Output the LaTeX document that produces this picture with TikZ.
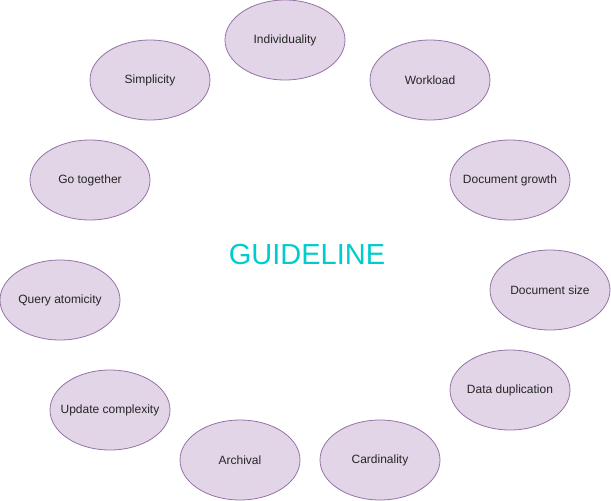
\documentclass[tikz,border=0pt]{standalone}
\usepackage{fontspec}
\setmainfont{Liberation Sans}
\usetikzlibrary{shapes.geometric}
\definecolor{efill}{HTML}{E1D5E7}
\definecolor{edraw}{HTML}{9673A6}
\definecolor{gcyan}{HTML}{00CCCC}
\newcommand{\zw}[1]{\makebox[0pt]{#1}}
\tikzset{
  topic/.style={ellipse, draw=edraw, fill=efill, line width=0.8pt, minimum width=120pt, minimum height=80pt, inner sep=0pt, font=\fontsize{12}{14}\selectfont, text=black!85},
  title/.style={font=\fontsize{29}{34}\selectfont, text=gcyan}
}
\begin{document}
\begin{tikzpicture}[x=1pt,y=-1pt]
\useasboundingbox (0,0) rectangle (611,501);
\node[topic] (ind) at (285,40) {\zw{Individuality}};
\node[topic] (work) at (430,80) {\zw{Workload}};
\node[topic] (simp) at (150,80) {\zw{Simplicity}};
\node[topic] (go) at (90,180) {\zw{Go together}};
\node[topic] (grow) at (510,180) {\zw{Document growth}};
\node[topic] (size) at (550,290) {\zw{Document size}};
\node[topic] (query) at (60,300) {\zw{Query atomicity}};
\node[topic] (dup) at (510,390) {\zw{Data duplication}};
\node[topic] (upd) at (110,410) {\zw{Update complexity}};
\node[topic] (arch) at (240,460) {\zw{Archival}};
\node[topic] (card) at (380,460) {\zw{Cardinality}};
\node[title] (guide) at (307,255) {GUIDELINE};
\end{tikzpicture}
\end{document}
